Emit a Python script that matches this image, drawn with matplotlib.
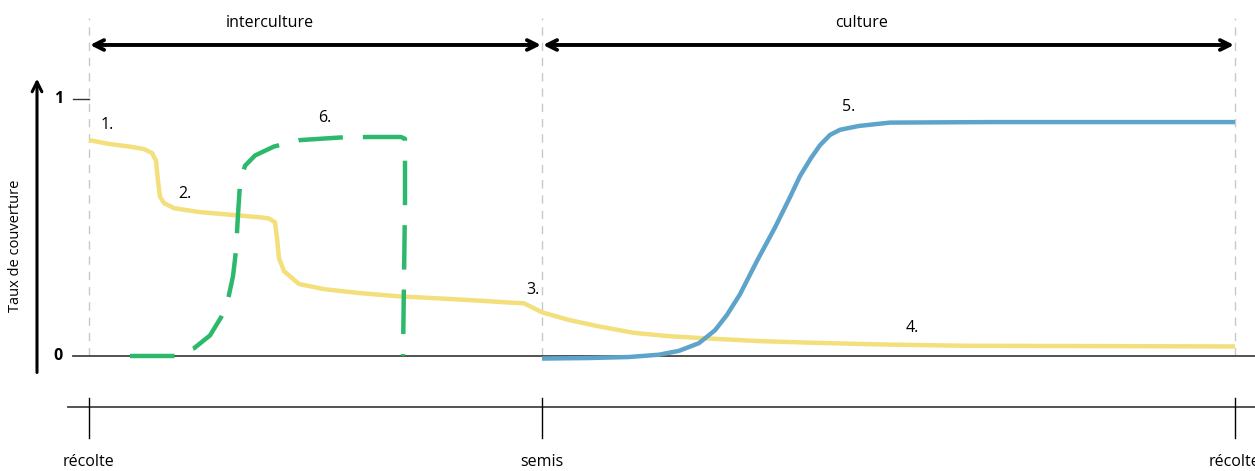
import numpy as np
import matplotlib.pyplot as plt

plt.rcParams['font.family'] = ['Open Sans', 'DejaVu Sans']

# temps : recolte = 0, semis = 45.3, recolte suivante = 114.6
x_recolte1 = 0.0
x_semis = 45.3
x_recolte2 = 114.6

# courbe jaune (residus / couverture morte)
jaune_x = [0, 2, 4, 5.5, 6.3, 6.7, 6.9, 7.1, 7.5, 8.5, 11, 14, 17, 18, 18.6, 18.8, 19, 19.5,
           21, 23.5, 27, 31, 36, 40, 42, 43.5, 45.3, 48, 51, 54.5, 58, 62, 67, 72, 79, 87,
           95, 105, 114.6]
jaune_y = [0.84, 0.825, 0.815, 0.805, 0.79, 0.76, 0.68, 0.62, 0.595, 0.575, 0.56, 0.55, 0.54,
           0.535, 0.52, 0.46, 0.38, 0.33, 0.28, 0.26, 0.245, 0.232, 0.222, 0.213, 0.208, 0.205,
           0.17, 0.14, 0.115, 0.09, 0.077, 0.068, 0.058, 0.052, 0.045, 0.04, 0.039, 0.038, 0.037]

# courbe bleue (culture)
bleu_x = [45.3, 50, 54, 57, 59, 61, 62.6, 63.8, 65.1, 66.8, 68.6, 70, 71.1, 72.2, 73.1, 74.1,
          75.1, 77, 80.1, 90, 105, 114.6]
bleu_y = [-0.01, -0.008, -0.004, 0.005, 0.02, 0.05, 0.1, 0.16, 0.24, 0.37, 0.5, 0.61, 0.7,
          0.77, 0.82, 0.86, 0.88, 0.895, 0.908, 0.91, 0.91, 0.91]

# courbe verte en tirets (couvert d'interculture)
vert_x = [4.1, 6, 8.6, 10.5, 12.1, 13.2, 13.9, 14.4, 14.7, 14.9, 15.1, 15.6, 16.6, 18.5, 21.1,
          25.1, 28, 31.2, 31.6, 31.6, 31.5, 31.4]
vert_y = [0.0, 0.0, 0.0, 0.03, 0.08, 0.15, 0.22, 0.31, 0.41, 0.55, 0.67, 0.74, 0.78, 0.815,
          0.84, 0.85, 0.852, 0.852, 0.845, 0.6, 0.3, 0.0]

etiquettes = ['1.', '2.', '3.', '4.', '5.', '6.']
etiq_x = [1.2, 8.9, 43.7, 81.7, 75.3, 22.9]
etiq_y = [0.9, 0.63, 0.255, 0.11, 0.97, 0.925]

periodes = ['interculture', 'culture']
periodes_x = [18.1, 77.3]
dates = ['récolte', 'semis', 'récolte']
dates_x = [x_recolte1, x_semis, x_recolte2]

fig = plt.figure(figsize=(12.55, 4.71), dpi=100)
ax = fig.add_axes([0, 0, 1, 1])
ax.set_xlim(-8.9, 116.6)
ax.set_ylim(-0.4475, 1.385)
ax.axis('off')

# lignes verticales pointillees
for xd in dates_x:
    ax.plot([xd, xd], [0, 1.315], color='#c8c8c8', lw=1, ls=(0, (6, 5)), zorder=1)

# axe des y
ax.annotate('', xy=(-5.2, 1.09), xytext=(-5.2, -0.075),
            arrowprops=dict(arrowstyle='->,head_length=0.7,head_width=0.35', lw=2.2, color='black'))
ax.text(-7.3, 0.43, 'Taux de couverture', rotation=90, ha='center', va='center', fontsize=10.5)
ax.plot([-1.6, 0], [1, 1], color='#333333', lw=1)
ax.text(-2.6, 1.0, '1', ha='right', va='center', fontsize=11.5, fontweight='bold')
ax.text(-2.6, 0.0, '0', ha='right', va='center', fontsize=11.5, fontweight='bold')
ax.plot([-1.6, 116.6], [0, 0], color='#444444', lw=1.3, zorder=2)

# frise du temps
ax.plot([-2.1, 116.6], [-0.198, -0.198], color='#444444', lw=1.3)
for xd, lab in zip(dates_x, dates):
    ax.plot([xd, xd], [-0.163, -0.32], color='black', lw=1)
    ax.text(xd, -0.412, lab, ha='center', va='center', fontsize=11.5)

# periodes
for (x0, x1), xt, lab in zip([(x_recolte1, x_semis), (x_semis, x_recolte2)], periodes_x, periodes):
    ax.annotate('', xy=(x0 + 0.1, 1.21), xytext=(x1 - 0.1, 1.21),
                arrowprops=dict(arrowstyle='<->,head_length=0.7,head_width=0.35', lw=2.8,
                                color='black', shrinkA=0, shrinkB=0))
    ax.text(xt, 1.295, lab, ha='center', va='center', fontsize=11.5)

# courbes
ax.plot(jaune_x, jaune_y, color='#F3DF7C', lw=3.2, solid_capstyle='butt', zorder=3)
ax.plot(bleu_x, bleu_y, color='#5EA3CA', lw=3.2, solid_capstyle='butt', zorder=4)
ax.plot(vert_x, vert_y, color='#2DB96B', lw=3.2, dashes=(10, 4.5), zorder=5)

for lab, xt, yt in zip(etiquettes, etiq_x, etiq_y):
    ax.text(xt, yt, lab, ha='left', va='center', fontsize=11.5)

fig.savefig('out.png', dpi=100)
